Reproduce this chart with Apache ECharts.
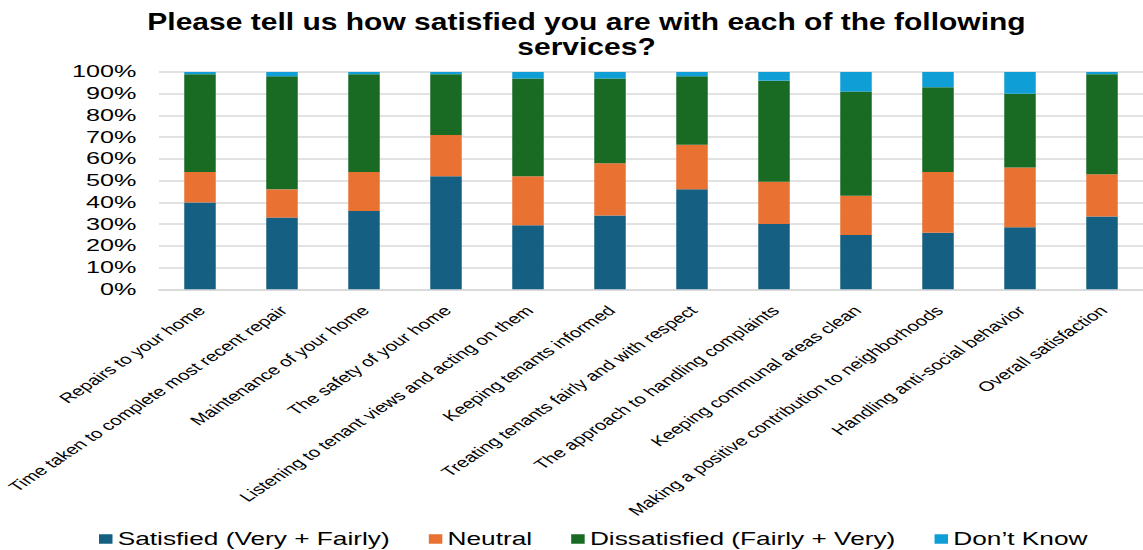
<!DOCTYPE html>
<html>
<head>
<meta charset="utf-8">
<script src="https://cdn.jsdelivr.net/npm/echarts@6/dist/echarts.min.js"></script>
<style>
  html, body { margin: 0; padding: 0; background: #fff; overflow: hidden; }
  #wrap { width: 1143px; height: 550px; overflow: hidden; }
  /* chart is laid out at 762px wide, then widened 1.5x horizontally */
  #chart { width: 762px; height: 550px; transform: scaleX(1.5); transform-origin: 0 0; }
</style>
</head>
<body>
<div id="wrap"><div id="chart"></div></div>
<script>
const categories = [
  'Repairs to your home',
  'Time taken to complete most recent repair',
  'Maintenance of your home',
  'The safety of your home',
  'Listening to tenant views and acting on them',
  'Keeping tenants informed',
  'Treating tenants fairly and with respect',
  'The approach to handling complaints',
  'Keeping communal areas clean',
  'Making a positive contribution to neighborhoods',
  'Handling anti-social behavior',
  'Overall satisfaction'
];
const satisfied    = [40, 33, 36, 52, 29.5, 34, 46, 30, 25, 26, 28.5, 33.5];
const neutral      = [14, 13, 18, 19, 22.5, 24, 20.5, 19.5, 18, 28, 27.5, 19.5];
const dissatisfied = [45, 52, 45, 28, 45, 39, 31.5, 46.5, 48, 39, 34, 46];
const dontKnow     = [1, 2, 1, 1, 3, 3, 2, 4, 9, 7, 10, 1];
const seriesNames = ['Satisfied (Very + Fairly)', 'Neutral', 'Dissatisfied (Fairly + Very)', 'Don\u2019t Know'];
const yTicks = [0, 10, 20, 30, 40, 50, 60, 70, 80, 90, 100];
const titleText = 'Please tell us how satisfied you are with each of the following\nservices?';

const colors = ['#156082', '#E97132', '#196B24', '#0F9ED5'];
const font = 'Liberation Sans, Arial, sans-serif';

const chart = echarts.init(document.getElementById('chart'), null, { renderer: 'svg' });

function bar(name, data, color) {
  return {
    name: name,
    type: 'bar',
    stack: 'total',
    data: data,
    barWidth: 21,
    itemStyle: { color: color },
    emphasis: { disabled: true }
  };
}

chart.setOption({
  animation: false,
  color: colors,
  // two-line heading, slightly condensed bold type
  graphic: [{
    type: 'text',
    x: 391,
    y: 10,
    scaleX: 20 / 23,
    silent: true,
    style: {
      text: titleText,
      x: 0,
      y: 0,
      font: 'bold 23px ' + font,
      lineHeight: 25,
      fill: '#000',
      textAlign: 'center',
      textVerticalAlign: 'top'
    }
  }],
  legend: {
    data: seriesNames,
    left: 66,
    top: 530,
    padding: 0,
    itemWidth: 9,
    itemHeight: 9.5,
    itemGap: 26,
    icon: 'rect',
    textStyle: { fontFamily: font, fontSize: 17.5, color: '#000', padding: [0, 0, 0, -1.5] }
  },
  grid: { left: 106, top: 72, width: 660, height: 217.3, containLabel: false },
  xAxis: {
    type: 'category',
    data: categories,
    axisLine: { show: true, lineStyle: { color: '#d9d9d9', width: 1.5 } },
    axisTick: { show: false },
    axisLabel: {
      interval: 0,
      rotate: 45,
      margin: 20,
      padding: [0, -1.5, 0, 0],
      fontFamily: font,
      fontSize: 13.7,
      color: '#000'
    }
  },
  yAxis: {
    type: 'value',
    min: yTicks[0],
    max: yTicks[yTicks.length - 1],
    interval: yTicks[1] - yTicks[0],
    axisLine: { show: false },
    axisTick: { show: false },
    splitLine: { lineStyle: { color: '#d9d9d9', width: 1.5 } },
    axisLabel: {
      margin: 15,
      formatter: '{value}%',
      fontFamily: font,
      fontSize: 16.8,
      color: '#000'
    }
  },
  series: [
    bar(seriesNames[0], satisfied, colors[0]),
    bar(seriesNames[1], neutral, colors[1]),
    bar(seriesNames[2], dissatisfied, colors[2]),
    bar(seriesNames[3], dontKnow, colors[3])
  ]
});
</script>
</body>
</html>
